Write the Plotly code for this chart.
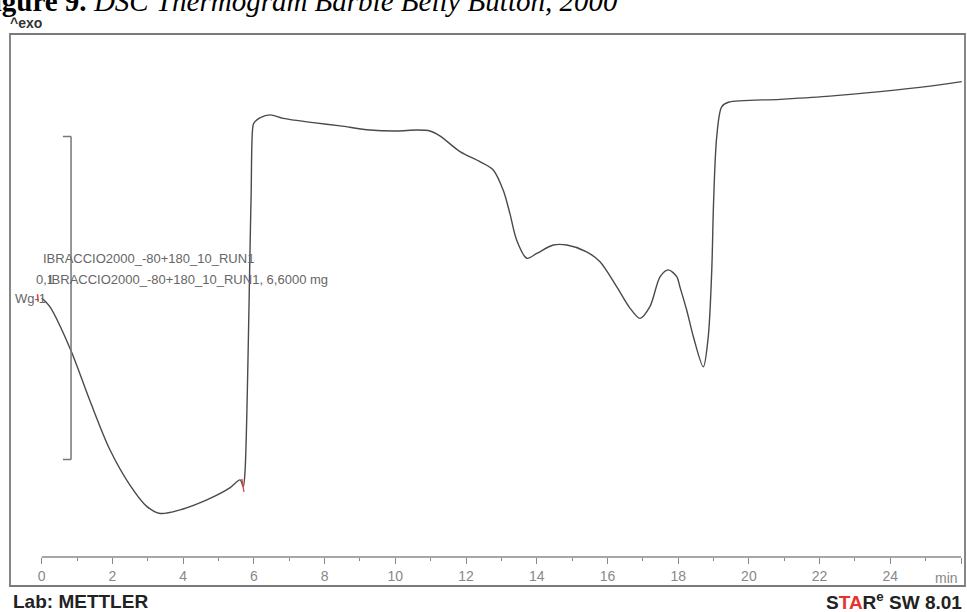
import plotly.graph_objects as go

# DSC curve: time (min) and heat flow (W/g)
time_min = [0.00, 0.23, 0.82, 1.37, 1.93, 2.50, 2.97, 3.35, 3.91, 4.67, 5.32, 5.61, 5.70, 5.75,
            5.92, 5.98, 6.03, 6.17, 6.46, 6.83, 7.68, 8.44, 9.28, 10.04, 10.61, 10.98, 11.26,
            11.83, 12.39, 12.77, 13.05, 13.24, 13.43, 13.72, 14.00, 14.47, 14.85, 15.41, 15.79,
            16.26, 16.64, 16.92, 17.20, 17.49, 17.72, 17.96, 18.05, 18.24, 18.43, 18.71, 18.85,
            18.95, 19.00, 19.09, 19.23, 19.42, 20.88, 22.29, 23.71, 25.12, 26.02]
heat_flow = [0.0000, -0.0027, -0.0161, -0.0320, -0.0470, -0.0580, -0.0645, -0.0667, -0.0656,
             -0.0625, -0.0588, -0.0563, -0.0584, -0.0538,
             0.0303, 0.0536, 0.0546, 0.0558, 0.0567, 0.0556, 0.0543, 0.0533, 0.0520, 0.0517,
             0.0520, 0.0517, 0.0502,
             0.0453, 0.0422, 0.0396, 0.0334, 0.0262, 0.0180, 0.0123, 0.0138, 0.0164, 0.0164,
             0.0143, 0.0112,
             0.0035, -0.0032, -0.0063, -0.0027, 0.0066, 0.0087, 0.0066, 0.0034, -0.0037,
             -0.0120, -0.0213, -0.0120,
             0.0087, 0.0293, 0.0499, 0.0592, 0.0606, 0.0615, 0.0625, 0.0639, 0.0656, 0.0670]

# red evaluation marks
red_start_x = [-0.12, -0.10]
red_start_y = [0.0012, -0.0012]
red_mid_x = [5.66, 5.70, 5.72]
red_mid_y = [-0.0560, -0.0590, -0.0600]

x_ticks = [0, 2, 4, 6, 8, 10, 12, 14, 16, 18, 20, 22, 24, 26]
x_ticktext = ["0", "2", "4", "6", "8", "10", "12", "14", "16", "18", "20", "22", "24", ""]
x_minor = [1, 3, 5, 7, 9, 11, 13, 15, 17, 19, 21, 23, 25]

scale_bar = 0.1          # W/g
scale_bar_x = 0.83       # min
sample_line1 = "IBRACCIO2000_-80+180_10_RUN1"
sample_line2 = "IBRACCIO2000_-80+180_10_RUN1, 6,6000 mg"

W, H = 967, 612
L, R, T, B = 10, 2, 34, 55
pw, ph = W - L - R, H - T - B


def px(x):
    return (x - L) / pw


def py(y):
    return (H - B - y) / ph


fig = go.Figure()
fig.add_trace(go.Scatter(x=time_min, y=heat_flow, mode="lines",
                         line=dict(color="#4a4a4a", width=1.4, shape="spline", smoothing=0.85),
                         hoverinfo="skip", showlegend=False))
fig.add_trace(go.Scatter(x=red_start_x, y=red_start_y, mode="lines",
                         line=dict(color="#e04040", width=1.5), showlegend=False, hoverinfo="skip"))
fig.add_trace(go.Scatter(x=red_mid_x, y=red_mid_y, mode="lines",
                         line=dict(color="#e04040", width=1.3), showlegend=False, hoverinfo="skip"))

shapes = [
    # outer frame
    dict(type="rect", xref="paper", yref="paper", x0=0, x1=1, y0=py(586), y1=1,
         line=dict(color="#7a7a7a", width=1.8)),
    # x axis line
    dict(type="line", xref="x", yref="paper", x0=0, x1=26, y0=0, y1=0,
         line=dict(color="#8a8a8a", width=1.4)),
    # scale bar bracket
    dict(type="line", xref="x", yref="y", x0=scale_bar_x, x1=scale_bar_x,
         y0=-scale_bar / 2, y1=scale_bar / 2, line=dict(color="#777777", width=1.5)),
    dict(type="line", xref="x", yref="y", x0=scale_bar_x - 0.23, x1=scale_bar_x,
         y0=scale_bar / 2, y1=scale_bar / 2, line=dict(color="#777777", width=1.5)),
    dict(type="line", xref="x", yref="y", x0=scale_bar_x - 0.23, x1=scale_bar_x,
         y0=-scale_bar / 2, y1=-scale_bar / 2, line=dict(color="#777777", width=1.5)),
]

ann_font = dict(family="Liberation Sans, Arial", size=13, color="#666666")
annotations = [
    dict(x=px(-26), y=py(1), xref="paper", yref="paper", xanchor="left", yanchor="middle",
         text="<b>Figure 9.</b><i> DSC Thermogram Barbie Belly Button, 2000</i>",
         font=dict(family="Liberation Serif, Times New Roman", size=29, color="#000000"),
         showarrow=False),
    dict(x=px(8), y=py(23), xref="paper", yref="paper", xanchor="left", yanchor="middle",
         text="<b>^exo</b>", font=dict(family="Liberation Sans, Arial", size=14, color="#333333"),
         showarrow=False),
    dict(x=px(41), y=py(258), xref="paper", yref="paper", xanchor="left", yanchor="middle",
         text=sample_line1, font=ann_font, showarrow=False),
    dict(x=px(34), y=py(279), xref="paper", yref="paper", xanchor="left", yanchor="middle",
         text="0,1", font=ann_font, showarrow=False),
    dict(x=px(46), y=py(279), xref="paper", yref="paper", xanchor="left", yanchor="middle",
         text=sample_line2, font=ann_font, showarrow=False),
    dict(x=px(13), y=py(299), xref="paper", yref="paper", xanchor="left", yanchor="middle",
         text="Wg-1", font=ann_font, showarrow=False),
    dict(x=px(960), y=py(578), xref="paper", yref="paper", xanchor="right", yanchor="middle",
         text="min", font=dict(family="Liberation Sans, Arial", size=14, color="#888888"),
         showarrow=False),
    dict(x=px(11), y=py(601), xref="paper", yref="paper", xanchor="left", yanchor="middle",
         text="<b>Lab: METTLER</b>", font=dict(family="Liberation Sans, Arial", size=19, color="#222222"),
         showarrow=False),
    dict(x=px(964), y=py(601), xref="paper", yref="paper", xanchor="right", yanchor="middle",
         text="<b>S<span style='color:#e8322c'>TA</span>R<sup>e</sup> SW 8.01</b>",
         font=dict(family="Liberation Sans, Arial", size=19, color="#222222"),
         showarrow=False),
]

x_left = (L - 41.7) / 35.36
x_right = (W - R - 41.7) / 35.36
fig.update_layout(
    width=W, height=H, margin=dict(l=L, r=R, t=T, b=B),
    paper_bgcolor="white", plot_bgcolor="white",
    shapes=shapes, annotations=annotations, showlegend=False,
    xaxis=dict(range=[x_left, x_right], showgrid=False, zeroline=False, showline=False,
               tickmode="array", tickvals=x_ticks, ticktext=x_ticktext,
               ticks="outside", ticklen=6, tickwidth=1.2, tickcolor="#888888",
               tickfont=dict(family="Liberation Sans, Arial", size=14, color="#888888"),
               minor=dict(tickvals=x_minor, ticks="outside", ticklen=3, tickcolor="#888888",
                          tickwidth=1.2)),
    yaxis=dict(range=[(298 - 557) / 3230, (298 - 34) / 3230], visible=False,
               showgrid=False, zeroline=False),
)
fig.write_html("out.html", config={"displayModeBar": False},
               post_script="document.body.style.margin='0';document.body.style.overflow='hidden';")
